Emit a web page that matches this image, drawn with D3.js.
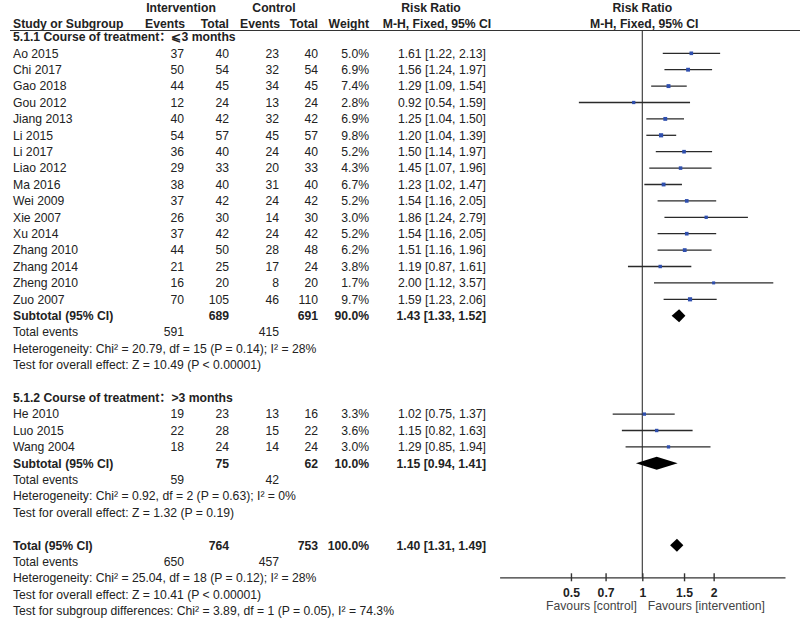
<!DOCTYPE html>
<html>
<head>
<meta charset="utf-8">
<script src="https://cdn.jsdelivr.net/npm/d3@7"></script>
<style>
  html, body { margin: 0; padding: 0; background: #fff; }
  svg { display: block; }
  text { font-family: "Liberation Sans", Arial, "Noto Sans CJK SC", sans-serif; font-size: 12.2px; fill: #222; }
  .b { font-weight: bold; }
</style>
</head>
<body>
<svg id="chart" width="800" height="621"></svg>
<script>
// ---------------- DATA ----------------
const group1Title = "5.1.1 Course of treatment\uFF1A\u2A7D3 months";
const group2Title = "5.1.2 Course of treatment\uFF1A>3 months";

const studies1   = ["Ao 2015","Chi 2017","Gao 2018","Gou 2012","Jiang 2013","Li 2015","Li 2017","Liao 2012","Ma 2016","Wei 2009","Xie 2007","Xu 2014","Zhang 2010","Zhang 2014","Zheng 2010","Zuo 2007"];
const intEvents1 = [37,50,44,12,40,54,36,29,38,37,26,37,44,21,16,70];
const intTotal1  = [40,54,45,24,42,57,40,33,40,42,30,42,50,25,20,105];
const ctlEvents1 = [23,32,34,13,32,45,24,20,31,24,14,24,28,17,8,46];
const ctlTotal1  = [40,54,45,24,42,57,40,33,40,42,30,42,48,24,20,110];
const weight1    = [5.0,6.9,7.4,2.8,6.9,9.8,5.2,4.3,6.7,5.2,3.0,5.2,6.2,3.8,1.7,9.7];
const rr1        = [1.61,1.56,1.29,0.92,1.25,1.20,1.50,1.45,1.23,1.54,1.86,1.54,1.51,1.19,2.00,1.59];
const lo1        = [1.22,1.24,1.09,0.54,1.04,1.04,1.14,1.07,1.02,1.16,1.24,1.16,1.16,0.87,1.12,1.23];
const hi1        = [2.13,1.97,1.54,1.59,1.50,1.39,1.97,1.96,1.47,2.05,2.79,2.05,1.96,1.61,3.57,2.06];

const studies2   = ["He 2010","Luo 2015","Wang 2004"];
const intEvents2 = [19,22,18];
const intTotal2  = [23,28,24];
const ctlEvents2 = [13,15,14];
const ctlTotal2  = [16,22,24];
const weight2    = [3.3,3.6,3.0];
const rr2        = [1.02,1.15,1.29];
const lo2        = [0.75,0.82,0.85];
const hi2        = [1.37,1.63,1.94];

// subtotal / total: [intTotal, ctlTotal, weight, rr, lo, hi, intEvents, ctlEvents]
const sub1  = [689, 691, 90.0, 1.43, 1.33, 1.52, 591, 415];
const sub2  = [75, 62, 10.0, 1.15, 0.94, 1.41, 59, 42];
const total = [764, 753, 100.0, 1.40, 1.31, 1.49, 650, 457];

const het1  = "Heterogeneity: Chi\u00B2 = 20.79, df = 15 (P = 0.14); I\u00B2 = 28%";
const eff1  = "Test for overall effect: Z = 10.49 (P < 0.00001)";
const het2  = "Heterogeneity: Chi\u00B2 = 0.92, df = 2 (P = 0.63); I\u00B2 = 0%";
const eff2  = "Test for overall effect: Z = 1.32 (P = 0.19)";
const hetT  = "Heterogeneity: Chi\u00B2 = 25.04, df = 18 (P = 0.12); I\u00B2 = 28%";
const effT  = "Test for overall effect: Z = 10.41 (P < 0.00001)";
const subDiff = "Test for subgroup differences: Chi\u00B2 = 3.89, df = 1 (P = 0.05), I\u00B2 = 74.3%";

const tickValues = [0.5, 0.7, 1, 1.5, 2];
const tickLabels = ["0.5", "0.7", "1", "1.5", "2"];
const favLeft  = "Favours [control]";
const favRight = "Favours [intervention]";

// ---------------- LAYOUT ----------------
const svg = d3.select("#chart");
const rowY = d3.scaleLinear().domain([0, 1]).range([53.3, 69.7]);   // row index -> y centre
const x = d3.scaleLog().domain([0.25, 4]).range([499.6, 785]);
const col = { name: 13, ie: 184, it: 229, ce: 279, ct: 318, w: 369, rr: 486 };
const sq = d3.scaleSqrt().domain([0, 10]).range([2.2, 4.2]);
const f2 = d3.format(".2f"), f1 = d3.format(".1f");
const ciText = (r, l, h) => `${f2(r)} [${f2(l)}, ${f2(h)}]`;

function txt(xp, yp, s, anchor, bold) {
  return svg.append("text").attr("x", xp).attr("y", yp).attr("dy", "0.35em")
    .attr("text-anchor", anchor || "start").attr("class", bold ? "b" : null).text(s);
}

// header
txt(181, 7.5, "Intervention", "middle", true);
txt(274, 7.5, "Control", "middle", true);
txt(431, 7.5, "Risk Ratio", "middle", true);
txt(x(1), 7.5, "Risk Ratio", "middle", true);
txt(col.name, 23.5, "Study or Subgroup", "start", true);
txt(185, 23.5, "Events", "end", true);
txt(col.it, 23.5, "Total", "end", true);
txt(280, 23.5, "Events", "end", true);
txt(col.ct, 23.5, "Total", "end", true);
txt(col.w, 23.5, "Weight", "end", true);
txt(437, 23.5, "M-H, Fixed, 95% CI", "middle", true);
txt(x(1) + 2, 23.5, "M-H, Fixed, 95% CI", "middle", true);
svg.append("line").attr("x1", 10).attr("x2", 800).attr("y1", 30.5).attr("y2", 30.5)
  .attr("stroke", "#333").attr("stroke-width", 1.2);

// vertical line of no effect
svg.append("line").attr("x1", x(1)).attr("x2", x(1)).attr("y1", 30.5).attr("y2", 577.3)
  .attr("stroke", "#333").attr("stroke-width", 1.1);

function studyRows(startRow, names, ie, it, ce, ct, w, rr, lo, hi) {
  names.forEach((n, i) => {
    const y = rowY(startRow + i);
    txt(col.name, y, n);
    txt(col.ie, y, ie[i], "end");
    txt(col.it, y, it[i], "end");
    txt(col.ce, y, ce[i], "end");
    txt(col.ct, y, ct[i], "end");
    txt(col.w, y, f1(w[i]) + "%", "end");
    txt(col.rr, y, ciText(rr[i], lo[i], hi[i]), "end");
    svg.append("line").attr("x1", x(lo[i])).attr("x2", x(hi[i])).attr("y1", y).attr("y2", y)
      .attr("stroke", "#2a2a2a").attr("stroke-width", 1.3);
    const s = sq(w[i]);
    svg.append("rect").attr("x", x(rr[i]) - s / 2).attr("y", y - s / 2)
      .attr("width", s).attr("height", s).attr("fill", "#2f4fae");
  });
}

function diamond(y, lo, rr, hi) {
  const h = 6.5;
  svg.append("path")
    .attr("d", `M${x(lo)},${y} L${x(rr)},${y - h} L${x(hi)},${y} L${x(rr)},${y + h} Z`)
    .attr("fill", "#000");
}

function summaryRow(row, label, d) {
  const y = rowY(row);
  txt(col.name, y, label, "start", true);
  txt(col.it, y, d[0], "end", true);
  txt(col.ct, y, d[1], "end", true);
  txt(col.w, y, f1(d[2]) + "%", "end", true);
  txt(col.rr, y, ciText(d[3], d[4], d[5]), "end", true);
  diamond(y, d[4], d[3], d[5]);
}

function eventsRow(row, d) {
  const y = rowY(row);
  txt(col.name, y, "Total events");
  txt(col.ie, y, d[6], "end");
  txt(col.ce, y, d[7], "end");
}

// group 1
txt(col.name, rowY(-1), group1Title, "start", true);
studyRows(0, studies1, intEvents1, intTotal1, ctlEvents1, ctlTotal1, weight1, rr1, lo1, hi1);
summaryRow(16, "Subtotal (95% CI)", sub1);
eventsRow(17, sub1);
txt(col.name, rowY(18), het1);
txt(col.name, rowY(19), eff1);

// group 2
txt(col.name, rowY(21), group2Title, "start", true);
studyRows(22, studies2, intEvents2, intTotal2, ctlEvents2, ctlTotal2, weight2, rr2, lo2, hi2);
summaryRow(25, "Subtotal (95% CI)", sub2);
eventsRow(26, sub2);
txt(col.name, rowY(27), het2);
txt(col.name, rowY(28), eff2);

// total
summaryRow(30, "Total (95% CI)", total);
eventsRow(31, total);
txt(col.name, rowY(32), hetT);
txt(col.name, rowY(33), effT);
txt(col.name, rowY(34), subDiff);

// axis
const axisY = 577.3;
const ax = svg.append("g").attr("transform", `translate(0,${axisY})`)
  .call(d3.axisBottom(x).tickValues(tickValues).tickFormat((d, i) => tickLabels[i])
    .tickSizeOuter(0).tickSizeInner(4).tickPadding(7));
ax.select(".domain").attr("stroke", "#333").attr("stroke-width", 1.2);
ax.selectAll(".tick line").attr("y1", -4).attr("y2", 4).attr("stroke", "#333").attr("stroke-width", 1.4);
ax.selectAll(".tick text").attr("class", "b").attr("font-size", null).attr("font-family", null)
  .style("font-size", "12.2px").style("fill", "#222");
ax.attr("font-size", null).attr("font-family", null);

txt(x(1) - 5.5, 606, favLeft, "end").style("fill", "#444");
txt(x(1) + 5.5, 606, favRight, "start").style("fill", "#444");
</script>
</body>
</html>
